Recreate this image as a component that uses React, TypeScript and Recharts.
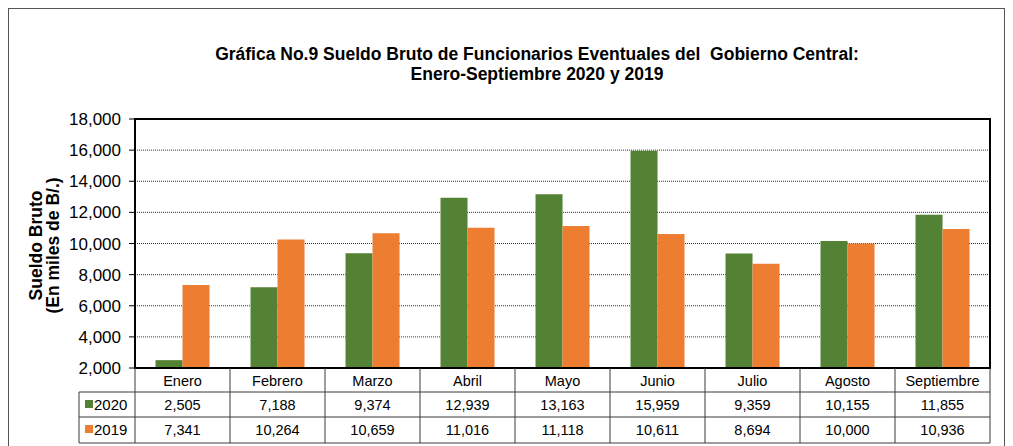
import {
  BarChart,
  Bar,
  XAxis,
  YAxis,
  CartesianGrid,
  ReferenceArea,
  Label,
} from 'recharts';

const MONTHS = ['Enero', 'Febrero', 'Marzo', 'Abril', 'Mayo', 'Junio', 'Julio', 'Agosto', 'Septiembre'];
const SUELDO_2020 = [2505, 7188, 9374, 12939, 13163, 15959, 9359, 10155, 11855];
const SUELDO_2019 = [7341, 10264, 10659, 11016, 11118, 10611, 8694, 10000, 10936];
const Y_TICKS = [2000, 4000, 6000, 8000, 10000, 12000, 14000, 16000, 18000];
const SERIES = [
  { key: 'y2020', label: '2020', color: '#548235', values: SUELDO_2020 },
  { key: 'y2019', label: '2019', color: '#ED7D31', values: SUELDO_2019 },
];

const W = 1013;
const H = 446;
const PLOT_LEFT = 135;
const PLOT_RIGHT = 990;
const BAND = (PLOT_RIGHT - PLOT_LEFT) / MONTHS.length;
const FONT = '"Liberation Sans", Arial, sans-serif';
const LINE = '#3a3a3a';

const data = MONTHS.map((m, i) => ({ month: m, y2020: SUELDO_2020[i], y2019: SUELDO_2019[i] }));

const fmt = (v: number) => v.toLocaleString('en-US');

// x-axis tick draws one column of the data table under the plot
function TableTick(props: any) {
  const { x, y, index } = props;
  const half = BAND / 2;
  const l = x - half;
  const r = x + half;
  const rows = [y, y + 24, y + 49, y + 75];
  const last = index === MONTHS.length - 1;
  const legL = PLOT_LEFT - 56;
  return (
    <g>
      <line x1={l} y1={rows[0]} x2={l} y2={rows[3]} stroke={LINE} />
      {last && <line x1={r} y1={rows[0]} x2={r} y2={rows[3]} stroke={LINE} />}
      {[1, 2, 3].map((k) => (
        <line key={k} x1={l} y1={rows[k]} x2={r} y2={rows[k]} stroke={LINE} />
      ))}
      <text x={x} y={rows[0] + 18} textAnchor="middle" fontSize={14.5} fontFamily={FONT} fill="#000">
        {MONTHS[index]}
      </text>
      {SERIES.map((s, k) => (
        <text key={s.key} x={x} y={rows[k + 1] + 18} textAnchor="middle" fontSize={14.5} fontFamily={FONT} fill="#000">
          {fmt(s.values[index])}
        </text>
      ))}
      {index === 0 && (
        <g>
          <line x1={legL} y1={rows[1]} x2={legL} y2={rows[3]} stroke={LINE} />
          {[1, 2, 3].map((k) => (
            <line key={k} x1={legL} y1={rows[k]} x2={l} y2={rows[k]} stroke={LINE} />
          ))}
          {SERIES.map((s, k) => (
            <g key={s.key}>
              <rect x={legL + 6} y={rows[k + 1] + 8} width={8} height={8} fill={s.color} />
              <text x={legL + 15} y={rows[k + 1] + 18} fontSize={15} fontFamily={FONT} fill="#000">
                {s.label}
              </text>
            </g>
          ))}
        </g>
      )}
    </g>
  );
}

function YTitle(props: any) {
  const { viewBox } = props;
  const cy = viewBox.y + viewBox.height / 2 + 2;
  return (
    <g fontFamily={FONT} fontWeight="bold" fontSize={17.5} fill="#000">
      <text transform={`translate(42, ${cy}) rotate(-90)`} textAnchor="middle">Sueldo Bruto</text>
      <text transform={`translate(59, ${cy}) rotate(-90)`} textAnchor="middle">(En miles de B/.)</text>
    </g>
  );
}

export default function App() {
  return (
    <div style={{ position: 'absolute', left: 0, top: 0, width: W, height: H, background: '#fff' }}>
      <div
        style={{
          position: 'absolute',
          left: 8,
          top: 8,
          width: 995,
          height: H,
          borderLeft: '1px solid #555',
          borderTop: '1px solid #555',
          borderRight: '1px solid #555',
        }}
      />
      <div
        style={{
          position: 'absolute',
          left: 0,
          top: 45,
          width: 1074,
          textAlign: 'center',
          fontFamily: FONT,
          fontWeight: 'bold',
          fontSize: 17.5,
          lineHeight: '19.5px',
          whiteSpace: 'pre',
          color: '#000',
        }}
      >
        {'Gráfica No.9 Sueldo Bruto de Funcionarios Eventuales del  Gobierno Central:\nEnero-Septiembre 2020 y 2019'}
      </div>
      <div style={{ position: 'absolute', left: 0, top: 0 }}>
        <BarChart
          width={W}
          height={H}
          data={data}
          margin={{ top: 119, right: W - PLOT_RIGHT, bottom: 3, left: PLOT_LEFT - 60 }}
          barCategoryGap="21.6%"
          barGap={0}
        >
          <CartesianGrid vertical={false} stroke="#333" strokeDasharray="1 1" />
          <XAxis
            dataKey="month"
            height={75}
            interval={0}
            tickLine={false}
            tickSize={0}
            tickMargin={0}
            axisLine={{ stroke: '#000', strokeWidth: 2 }}
            tick={<TableTick />}
          />
          <YAxis
            width={60}
            domain={[2000, 18000]}
            ticks={Y_TICKS}
            allowDataOverflow
            tickFormatter={fmt}
            tickSize={6}
            tickMargin={8}
            tickLine={{ stroke: '#000' }}
            axisLine={{ stroke: '#000', strokeWidth: 2 }}
            tick={{ fill: '#000', fontSize: 17, fontFamily: FONT }}
          >
            <Label content={<YTitle />} />
          </YAxis>
          {SERIES.map((s) => (
            <Bar key={s.key} dataKey={s.key} fill={s.color} isAnimationActive={false} />
          ))}
          <ReferenceArea y1={2000} y2={18000} fill="none" stroke="#000" strokeWidth={2} ifOverflow="visible" />
        </BarChart>
      </div>
    </div>
  );
}
